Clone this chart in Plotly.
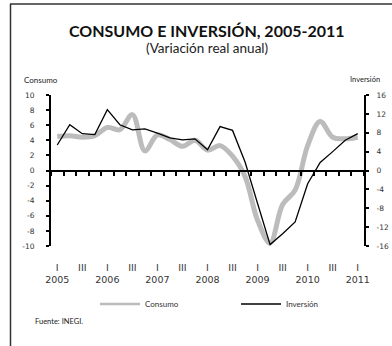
import plotly.graph_objects as go

# ---- data ----
quarters = ["2005-I", "2005-II", "2005-III", "2005-IV",
            "2006-I", "2006-II", "2006-III", "2006-IV",
            "2007-I", "2007-II", "2007-III", "2007-IV",
            "2008-I", "2008-II", "2008-III", "2008-IV",
            "2009-I", "2009-II", "2009-III", "2009-IV",
            "2010-I", "2010-II", "2010-III", "2010-IV",
            "2011-I"]
consumo = [4.5, 4.6, 4.4, 4.6, 5.7, 5.4, 7.4, 2.6,
           4.7, 4.1, 3.2, 4.0, 2.7, 3.3, 1.9, -0.8,
           -6.6, -9.6, -4.5, -2.6, 3.3, 6.5, 4.4, 4.2, 4.4]
inversion = [5.4, 9.7, 7.8, 7.6, 12.9, 9.7, 8.6, 8.8,
             7.9, 6.9, 6.5, 6.7, 4.4, 9.3, 8.5, 1.8,
             -7.0, -15.7, -13.4, -10.9, -2.8, 1.7, 4.0, 6.4, 7.8]

y1_ticks = [10, 8, 6, 4, 2, 0, -2, -4, -6, -8, -10]
y1_text = ["10", "8", "6", "4", "2", "0", "-2", "-4", "-6", "-8", "-10"]
y2_ticks = [16, 12, 8, 4, 0, -4, -8, -12, -16]
y2_text = ["16", "12", "8", "4", "0", "-4", "-8", "-12", "-16"]

xi = list(range(len(quarters)))
# label only first and third quarters
lab_vals = [i for i, q in enumerate(quarters) if q.endswith("-I") or q.endswith("-III")]
lab_text = [("I<br>" + quarters[i].split("-")[0]) if quarters[i].endswith("-I") else "III"
            for i in lab_vals]
bound_vals = [i - 0.5 for i in xi] + [len(xi) - 0.5]

TICKFONT = dict(family="DejaVu Sans", size=7.5, color="#333333")
TXT = "Lato"
GRAY = "#bcbcbc"

fig = go.Figure()
fig.add_trace(go.Scatter(x=xi, y=consumo, name="Consumo", mode="lines",
                         line=dict(color=GRAY, width=5, shape="spline", smoothing=1.0),
                         xaxis="x", yaxis="y", hoverinfo="skip", showlegend=False))
fig.add_trace(go.Scatter(x=xi, y=inversion, name="Inversión", mode="lines",
                         line=dict(color="#000000", width=1.3),
                         xaxis="x", yaxis="y2", hoverinfo="skip", showlegend=False))
# invisible helper trace so the zero-line axis is drawn
fig.add_trace(go.Scatter(x=xi, y=consumo, mode="lines", line=dict(width=0, color="rgba(0,0,0,0)"),
                         xaxis="x2", yaxis="y", showlegend=False, hoverinfo="skip"))
# legend keys
fig.add_trace(go.Scatter(x=[None], y=[None], name="Consumo", mode="lines",
                         line=dict(color=GRAY, width=2.5), legend="legend"))
fig.add_trace(go.Scatter(x=[None], y=[None], name="Inversión", mode="lines",
                         line=dict(color="#000000", width=1.5), legend="legend2"))

W, H = 392, 346
L, R, T, B = 51, 28, 95, 100
pw, ph = W - L - R, H - T - B


def px(x):
    return (x - L) / pw


def py(y):
    return (H - B - y) / ph


LEGFONT = dict(family=TXT, size=8, color="#333333")

fig.update_layout(
    width=W, height=H, autosize=False,
    margin=dict(l=L, r=R, t=T, b=B, autoexpand=False),
    paper_bgcolor="white", plot_bgcolor="white",
    showlegend=True,
    legend=dict(orientation="h", x=px(95), y=py(304), xanchor="left", yanchor="middle",
                font=LEGFONT, itemwidth=40, bgcolor="rgba(0,0,0,0)"),
    legend2=dict(orientation="h", x=px(236), y=py(304), xanchor="left", yanchor="middle",
                 font=LEGFONT, itemwidth=40, bgcolor="rgba(0,0,0,0)"),
    xaxis=dict(range=[-0.5, len(xi) - 0.5], showline=False, showgrid=False, zeroline=False,
               ticks="", tickmode="array", tickvals=lab_vals, ticktext=lab_text,
               tickfont=dict(family="DejaVu Sans", size=9.5, color="#333333"),
               ticklabelstandoff=14),
    xaxis2=dict(range=[-0.5, len(xi) - 0.5], overlaying="x", anchor="free", position=0.5,
                showline=True, linecolor="black", linewidth=2, showgrid=False, zeroline=False,
                ticks="outside", ticklen=4, tickwidth=1.5, tickcolor="black",
                tickmode="array", tickvals=bound_vals, showticklabels=False),
    yaxis=dict(range=[-10, 10], showline=True, linecolor="black", linewidth=2,
               showgrid=False, zeroline=False, ticks="outside", ticklen=3, tickwidth=1.5,
               tickcolor="black", tickmode="array", tickvals=y1_ticks, ticktext=y1_text,
               tickfont=TICKFONT, ticklabelstandoff=10),
    yaxis2=dict(range=[-16, 16], overlaying="y", side="right", anchor="x",
                showline=True, linecolor="black", linewidth=2,
                showgrid=False, zeroline=False, ticks="outside", ticklen=3, tickwidth=1.5,
                tickcolor="black", tickmode="array", tickvals=y2_ticks, ticktext=y2_text,
                tickfont=TICKFONT, ticklabelstandoff=6),
)

# frame
fig.add_shape(type="line", xref="paper", yref="paper", x0=px(10), x1=px(392), y0=py(4), y1=py(4),
              line=dict(color="#333333", width=1.5))
fig.add_shape(type="line", xref="paper", yref="paper", x0=px(10.5), x1=px(10.5), y0=py(4), y1=py(346),
              line=dict(color="#333333", width=1.5))

ann = [
    dict(text="<b>CONSUMO E INVERSIÓN, 2005-2011</b>", x=px(206.5), y=py(30),
         font=dict(family=TXT, size=16, color="#111111"), xanchor="center"),
    dict(text="(Variación real anual)", x=px(207), y=py(48),
         font=dict(family=TXT, size=13.5, color="#222222"), xanchor="center"),
    dict(text="Consumo", x=px(22), y=py(80), font=dict(family=TXT, size=8, color="#222222"),
         xanchor="left"),
    dict(text="Inversión", x=px(382), y=py(80), font=dict(family=TXT, size=7.5, color="#222222"),
         xanchor="right"),
    dict(text="Fuente: INEGI.", x=px(33), y=py(321), font=dict(family=TXT, size=7.5, color="#222222"),
         xanchor="left"),
]
for a in ann:
    fig.add_annotation(xref="paper", yref="paper", showarrow=False, yanchor="middle", **a)

fig.write_html(
    "out.html",
    config={"displayModeBar": False, "responsive": False},
    default_width="392px", default_height="346px",
    post_script="document.body.style.margin='0';document.body.style.overflow='hidden';"
                "document.documentElement.style.overflow='hidden';",
)
